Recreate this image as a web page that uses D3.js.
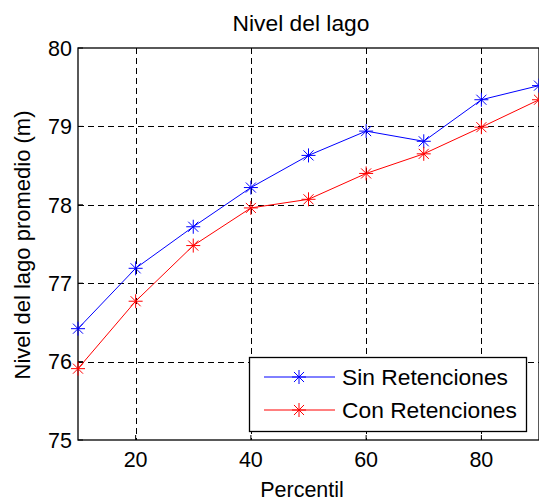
<!DOCTYPE html>
<html>
<head>
<meta charset="utf-8">
<script src="https://cdn.jsdelivr.net/npm/d3@7"></script>
<style>
  body { margin: 0; background: #fff; }
  svg { font-family: "Liberation Sans", Arial, sans-serif; }
</style>
</head>
<body>
<div id="chart"></div>
<script>
// chart data
const percentiles = [10, 20, 30, 40, 50, 60, 70, 80, 90];
const sinRetenciones = [76.42, 77.19, 77.72, 78.22, 78.63, 78.94, 78.81, 79.34, 79.52];
const conRetenciones = [75.91, 76.77, 77.48, 77.96, 78.07, 78.40, 78.65, 78.99, 79.34];
const xTicks = [20, 40, 60, 80];
const yTicks = [75, 76, 77, 78, 79, 80];
const seriesNames = ['Sin Retenciones', 'Con Retenciones'];
const seriesColors = ['#0000ff', '#ff0000'];

const width = 539;
const height = 502;
const margin = {top: 48, right: 0, bottom: 62, left: 78};

const x = d3.scaleLinear().domain([10, 90]).range([margin.left, width - margin.right]);
const y = d3.scaleLinear().domain([75, 80]).range([height - margin.bottom, margin.top]);

const svg = d3.select('#chart').append('svg')
  .attr('width', width)
  .attr('height', height);

// grid
const grid = svg.append('g')
  .attr('stroke', '#000')
  .attr('stroke-width', 1)
  .attr('stroke-dasharray', '6,4');

grid.selectAll('line.gx')
  .data(xTicks)
  .join('line')
  .attr('class', 'gx')
  .attr('x1', (d) => Math.round(x(d)) + 0.5)
  .attr('x2', (d) => Math.round(x(d)) + 0.5)
  .attr('y1', y(80))
  .attr('y2', y(75));

grid.selectAll('line.gy')
  .data(yTicks.filter((d) => d > 75 && d < 80))
  .join('line')
  .attr('class', 'gy')
  .attr('x1', x(10))
  .attr('x2', x(90))
  .attr('y1', (d) => Math.round(y(d)) + 0.5)
  .attr('y2', (d) => Math.round(y(d)) + 0.5);

// axes box
svg.append('rect')
  .attr('x', x(10))
  .attr('y', y(80))
  .attr('width', x(90) - x(10))
  .attr('height', y(75) - y(80))
  .attr('fill', 'none')
  .attr('stroke', '#000')
  .attr('stroke-width', 1.3);

// inner ticks
const tickLen = 5;
svg.append('g')
  .attr('stroke', '#000')
  .selectAll('line')
  .data(xTicks)
  .join('line')
  .attr('x1', (d) => x(d))
  .attr('x2', (d) => x(d))
  .attr('y1', y(75))
  .attr('y2', y(75) - tickLen);

svg.append('g')
  .attr('stroke', '#000')
  .selectAll('line')
  .data(yTicks)
  .join('line')
  .attr('x1', x(10))
  .attr('x2', x(10) + tickLen)
  .attr('y1', (d) => y(d))
  .attr('y2', (d) => y(d));

// tick labels
svg.append('g')
  .attr('font-size', 21.5)
  .attr('text-anchor', 'middle')
  .selectAll('text')
  .data(xTicks)
  .join('text')
  .attr('x', (d) => x(d))
  .attr('y', y(75) + 27)
  .text((d) => d);

svg.append('g')
  .attr('font-size', 21.5)
  .attr('text-anchor', 'end')
  .selectAll('text')
  .data(yTicks)
  .join('text')
  .attr('x', x(10) - 6)
  .attr('y', (d) => y(d))
  .attr('dy', '0.36em')
  .text((d) => d);

// series
const series = [sinRetenciones, conRetenciones];
const line = d3.line()
  .x((d, i) => x(percentiles[i]))
  .y((d) => y(d));

function star(g, cx, cy, r, color) {
  const d = r * 0.72;
  const p = `M${cx - r},${cy}L${cx + r},${cy}M${cx},${cy - r}L${cx},${cy + r}` +
    `M${cx - d},${cy - d}L${cx + d},${cy + d}M${cx - d},${cy + d}L${cx + d},${cy - d}`;
  g.append('path').attr('d', p).attr('stroke', color).attr('stroke-width', 1).attr('fill', 'none');
}

series.forEach((vals, si) => {
  const g = svg.append('g');
  g.append('path')
    .datum(vals)
    .attr('fill', 'none')
    .attr('stroke', seriesColors[si])
    .attr('stroke-width', 1)
    .attr('d', line);
  vals.forEach((v, i) => star(g, x(percentiles[i]), y(v), 7, seriesColors[si]));
});

// legend
const lg = svg.append('g');
lg.append('rect')
  .attr('x', 249.5)
  .attr('y', 357.5)
  .attr('width', 277)
  .attr('height', 74)
  .attr('fill', '#fff')
  .attr('stroke', '#000')
  .attr('stroke-width', 1.3);

seriesNames.forEach((name, i) => {
  const ly = 377 + i * 33;
  lg.append('line')
    .attr('x1', 264).attr('x2', 335)
    .attr('y1', ly).attr('y2', ly)
    .attr('stroke', seriesColors[i]);
  star(lg, 299, ly, 7, seriesColors[i]);
  lg.append('text')
    .attr('x', 342)
    .attr('y', ly)
    .attr('dy', '0.36em')
    .attr('font-size', 22.8)
    .text(name);
});

// titles
svg.append('text')
  .attr('x', 301)
  .attr('y', 31)
  .attr('text-anchor', 'middle')
  .attr('font-size', 22.8)
  .text('Nivel del lago');

svg.append('text')
  .attr('x', 302)
  .attr('y', 497)
  .attr('text-anchor', 'middle')
  .attr('font-size', 21.5)
  .text('Percentil');

svg.append('text')
  .attr('transform', `translate(30,245) rotate(-90)`)
  .attr('text-anchor', 'middle')
  .attr('font-size', 22)
  .text('Nivel del lago promedio (m)');
</script>
</body>
</html>
